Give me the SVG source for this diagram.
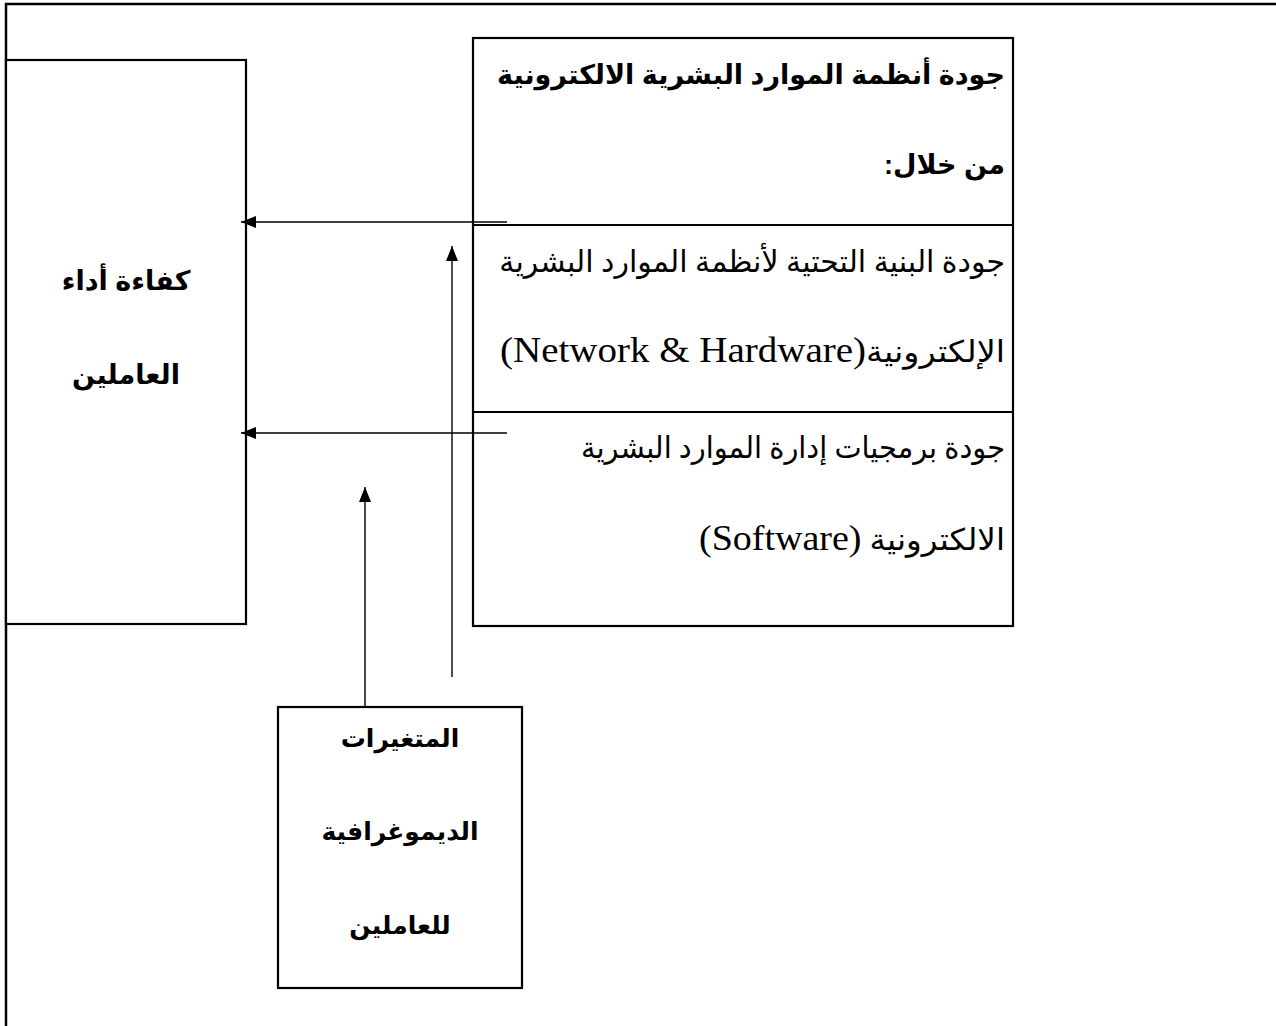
<svg xmlns="http://www.w3.org/2000/svg" width="1276" height="1026" viewBox="0 0 1276 1026">
<style>
.box{fill:#fff;stroke:#000;stroke-width:2.2}
.frame{fill:none;stroke:#000;stroke-width:2.5}
.conn{fill:none;stroke:#000;stroke-width:1.4}
.b{font-family:'Liberation Sans','DejaVu Sans',sans-serif;font-weight:bold;font-size:27px;fill:#000}
.bs{font-size:25px}
.r{font-family:'Liberation Serif','DejaVu Sans',serif;font-size:30px;fill:#000}
.lat{font-size:35px}
.rtl{direction:rtl;text-anchor:start}
.c{text-anchor:middle}
</style>
<defs>
<marker id="ah" markerWidth="15" markerHeight="12" refX="15" refY="6" orient="auto" markerUnits="userSpaceOnUse">
<path d="M0,0 L15,6 L0,12 Z" fill="#000"/>
</marker>
</defs>
<rect width="1276" height="1026" fill="#fff"/>
<g id="frame">
<path class="frame" d="M6,1026 L6,4 L1276,4"/>
</g>
<g id="node-performance">
<rect class="box" x="6" y="60" width="240" height="564"/>
<text class="b c" x="126" y="290" direction="rtl">كفاءة أداء</text>
<text class="b c" x="126" y="384" direction="rtl">العاملين</text>
</g>
<g id="node-quality">
<rect class="box" x="473" y="38" width="540" height="588"/>
<line class="box" x1="473" y1="225" x2="1013" y2="225"/>
<line class="box" x1="473" y1="412" x2="1013" y2="412"/>
<text class="b rtl" x="1005" y="84" direction="rtl">جودة أنظمة الموارد البشرية الالكترونية</text>
<text class="b rtl" x="1005" y="174" direction="rtl">من خلال:</text>
<text class="r rtl" x="1005" y="272" direction="rtl">جودة البنية التحتية لأنظمة الموارد البشرية</text>
<text class="r rtl" x="1005" y="362" direction="rtl" textLength="505" lengthAdjust="spacingAndGlyphs">الإلكترونية<tspan class="lat">(Network &amp; Hardware)</tspan></text>
<text class="r rtl" x="1005" y="458" direction="rtl" textLength="424" lengthAdjust="spacingAndGlyphs">جودة برمجيات إدارة الموارد البشرية</text>
<text class="r rtl" x="1005" y="550" direction="rtl" textLength="306" lengthAdjust="spacingAndGlyphs">الالكترونية <tspan class="lat">(Software)</tspan></text>
</g>
<g id="node-demographics">
<rect class="box" x="278" y="707" width="244" height="281"/>
<text class="b bs c" x="400" y="747" direction="rtl">المتغيرات</text>
<text class="b bs c" x="400" y="840" direction="rtl">الديموغرافية</text>
<text class="b bs c" x="400" y="934" direction="rtl">للعاملين</text>
</g>
<g id="connectors">
<line class="conn" x1="507" y1="222" x2="241" y2="222" marker-end="url(#ah)"/>
<line class="conn" x1="507" y1="433" x2="241" y2="433" marker-end="url(#ah)"/>
<line class="conn" x1="452" y1="677" x2="452" y2="246" marker-end="url(#ah)"/>
<line class="conn" x1="365" y1="708" x2="365" y2="487" marker-end="url(#ah)"/>
</g>
</svg>
